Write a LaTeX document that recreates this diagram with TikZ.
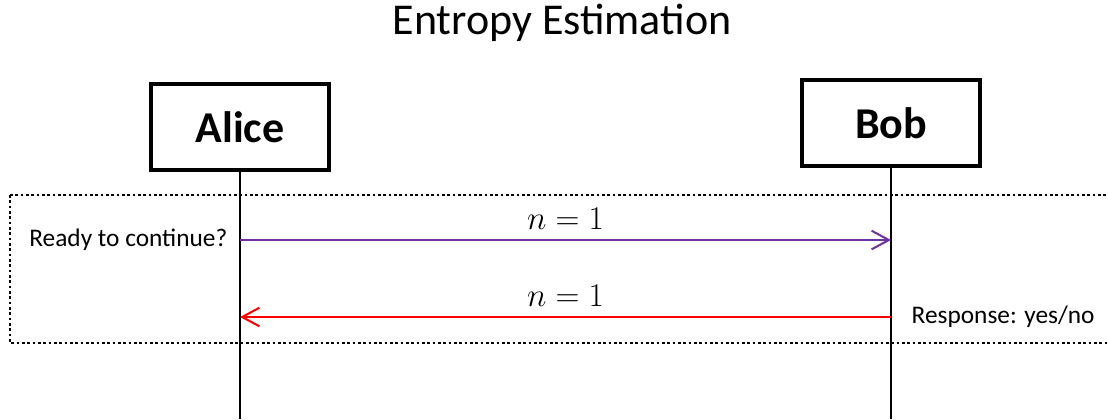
\documentclass[tikz,border=0pt]{standalone}
\usepackage{fontspec}
\setmainfont{Carlito}
\usetikzlibrary{arrows.meta,positioning}
\definecolor{msgpurple}{HTML}{7030A0}
\definecolor{msgred}{HTML}{FF0000}

\begin{document}
\begin{tikzpicture}[x=0.75pt, y=-0.75pt,
  actor/.style={draw, line width=3pt, fill=white, minimum width=134pt, minimum height=65pt,
                font=\fontsize{33}{36}\selectfont\bfseries},
  life/.style={line width=1.5pt},
  msg/.style={-{Straight Barb[length=13pt, width=14pt, line width=1.5pt]}, line width=1.5pt},
  note/.style={font=\fontsize{19}{21}\selectfont},
  lbl/.style={font=\fontsize{24}{26}\selectfont}]
  \useasboundingbox (0,0) rectangle (1108,419);
  % title
  \node[font=\fontsize{33}{36}\selectfont] (title) at (562,23) {Entropy Estimation};
  % round of messages
  \draw[line width=2pt, dotted] (10,195) rectangle (1130,343);
  % lifelines
  \coordinate (aend) at (240,419);
  \coordinate (bend) at (891,419);
  \draw[life] (240,127) -- (aend);
  \draw[life] (891,123) -- (bend);
  \node[actor] (alice) at (240,127) {Alice};
  \node[actor] (bob) at (891,123) {Bob};
  % messages
  \coordinate (a1) at (240,240);
  \coordinate (b1) at (891,240);
  \coordinate (a2) at (240,317);
  \coordinate (b2) at (891,317);
  \draw[msg, msgpurple] (a1) -- node[above=4pt, lbl, text=black] {$n=1$} (b1);
  \draw[msg, msgred] (b2) -- node[above=4pt, lbl, text=black] {$n=1$} (a2);
  \node[note, left=6pt of a1] (ask) {Ready to continue?};
  \node[note, right=12pt of b2] (resp) {Response: yes/no};
\end{tikzpicture}
\end{document}
